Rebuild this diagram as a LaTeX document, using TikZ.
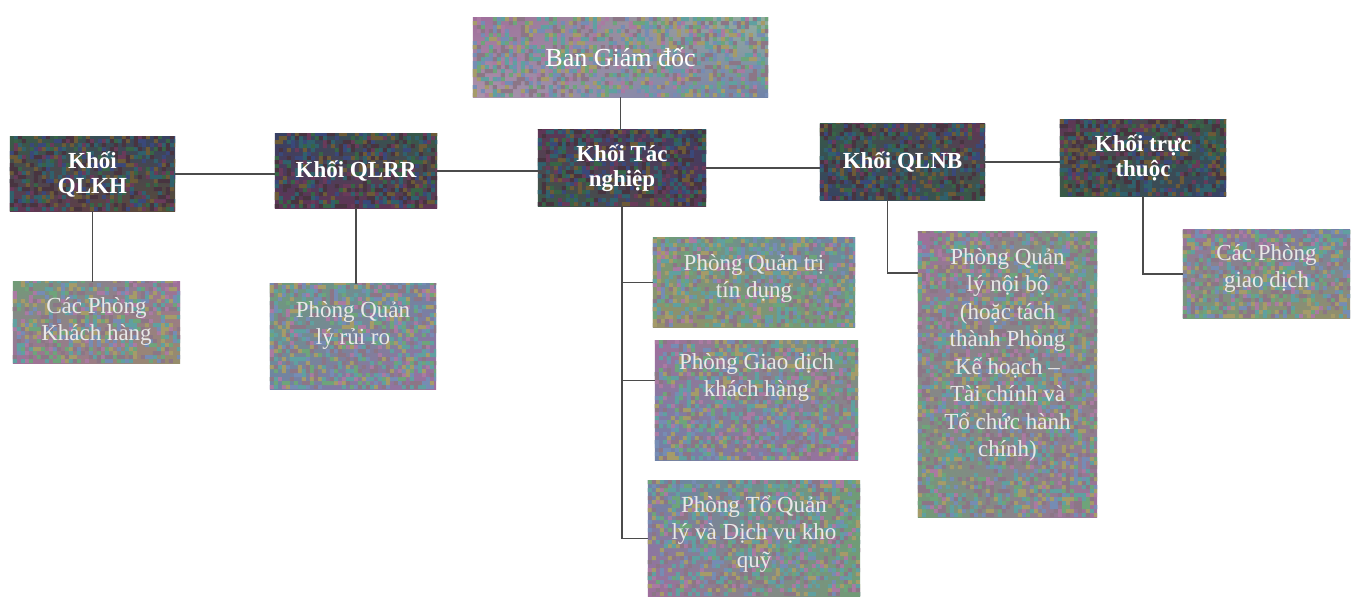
\documentclass[tikz,border=0pt]{standalone}
\usepackage{fontspec}
\setmainfont{Liberation Serif}
\usetikzlibrary{shadings}
\pgfdeclarelayer{bg}
\pgfsetlayers{bg,main}
% noise palettes
\definecolor{dk1}{RGB}{105,58,90}
\definecolor{dk2}{RGB}{55,100,70}
\definecolor{dk3}{RGB}{58,72,122}
\definecolor{dk4}{RGB}{108,90,55}
\definecolor{dk5}{RGB}{48,96,108}
\definecolor{dk6}{RGB}{72,52,64}
\definecolor{lt1}{RGB}{170,122,162}
\definecolor{lt2}{RGB}{110,164,122}
\definecolor{lt3}{RGB}{118,140,180}
\definecolor{lt4}{RGB}{165,155,105}
\definecolor{lt5}{RGB}{96,160,160}
\definecolor{lt6}{RGB}{140,118,134}
% shading base colours
\definecolor{dA}{RGB}{55,92,70}
\definecolor{dB}{RGB}{96,52,86}
\definecolor{dC}{RGB}{55,64,100}
\definecolor{dD}{RGB}{90,78,52}
\definecolor{lA}{RGB}{112,156,118}
\definecolor{lB}{RGB}{160,110,156}
\definecolor{lC}{RGB}{110,130,168}
\definecolor{lD}{RGB}{150,142,104}
\definecolor{lE}{RGB}{172,148,170}
\definecolor{lF}{RGB}{146,176,160}
\definecolor{lineC}{RGB}{75,75,75}
\definecolor{lowtxt}{RGB}{232,232,232}
\newcount\tbn \newcount\tbi \newcount\tbj \newcount\tbtot
\newcommand\lowtext[4]{\parbox[c][#2pt][t]{#1pt}{\centering\rule{0pt}{#3pt}#4}}
\newcommand\texturebox[3]{%
  \begin{pgfonlayer}{bg}
  \path (#1.south west); \pgfgetlastxy{\tbxa}{\tbya}
  \path (#1.north east); \pgfgetlastxy{\tbxb}{\tbyb}
  \begin{scope}
    \clip (#1.south west) rectangle (#1.north east);
    \shade[#3] (#1.south west) rectangle (#1.north east);
    \pgfmathtruncatemacro\tbnx{(\tbxb-\tbxa)/4+1}
    \pgfmathtruncatemacro\tbny{(\tbyb-\tbya)/4+1}
    \tbtot=\numexpr\tbnx*\tbny\relax
    \foreach \k in {1,...,6}{%
      \tbn=0
      \loop
        \tbj=\tbn \divide\tbj by \tbnx
        \tbi=\numexpr\tbn-\tbj*\tbnx\relax
        \pgfmathrandominteger{\tbr}{1}{7}%
        \ifnum\tbr=1
          \pgfpathrectangle{\pgfqpoint{\dimexpr\tbxa+4pt*\tbi\relax}{\dimexpr\tbya+4pt*\tbj\relax}}{\pgfqpoint{4pt}{4pt}}%
        \fi
        \advance\tbn by 1
      \ifnum\tbn<\tbtot\repeat
      \pgfsetfillcolor{#2\k}%
      \pgfusepath{fill}%
    }
  \end{scope}
  \end{pgfonlayer}}
\begin{document}
\begin{tikzpicture}[x=1pt,y=-1pt,
  topbox/.style={inner sep=0pt, align=center, text=white, font=\fontsize{23}{25}\selectfont\bfseries},
  lowbox/.style={inner sep=0pt, text=lowtxt, font=\fontsize{23}{27.5}\selectfont},
  conn/.style={draw=lineC, line width=1.6pt}]
\pgfmathsetseed{7}
\begin{pgfonlayer}{bg}
  \fill[white] (0,0) rectangle (1363,603);
\end{pgfonlayer}
\useasboundingbox (0,0) rectangle (1363,603);
% top row
\node[topbox, font=\fontsize{26}{28}\selectfont, minimum width=295pt, minimum height=79pt] (bgd) at (620.5,57.5) {Ban Giám đốc};
\node[topbox, minimum width=165pt, minimum height=74pt] (qlkh) at (92.5,174) {Khối\\QLKH};
\node[topbox, minimum width=162pt, minimum height=74pt] (qlrr) at (356,171) {Khối QLRR};
\node[topbox, minimum width=168pt, minimum height=76pt] (tn) at (622,168) {Khối Tác\\nghiệp};
\node[topbox, minimum width=165pt, minimum height=76pt] (qlnb) at (902.5,162) {Khối QLNB};
\node[topbox, minimum width=166pt, minimum height=76pt] (tt) at (1143,158) {Khối trực\\thuộc};
% lower boxes
\node[lowbox] (cpkh) at (96.5,322.5) {\lowtext{167}{81}{31}{Các Phòng\\Khách hàng}};
\node[lowbox] (pqlrr) at (353,336.5) {\lowtext{166}{105}{33}{Phòng Quản\\lý rủi ro}};
\node[lowbox] (pqttd) at (754,282.5) {\lowtext{202}{89}{32}{Phòng Quản trị\\tín dụng}};
\node[lowbox] (pgdkh) at (756.5,400.5) {\lowtext{203}{119}{28}{Phòng Giao dịch\\khách hàng}};
\node[lowbox] (ptql) at (754,538.5) {\lowtext{212}{115}{31}{Phòng Tổ Quản\\lý và Dịch vụ kho\\quỹ}};
\node[lowbox] (pqlnb) at (1007.5,374.5) {\lowtext{179}{285}{32}{Phòng Quản\\lý nội bộ\\(hoặc tách\\thành Phòng\\Kế hoạch –\\Tài chính và\\Tổ chức hành\\chính)}};
\node[lowbox] (cpgd) at (1266.5,274) {\lowtext{167}{88}{30}{Các Phòng\\giao dịch}};
% textures
\texturebox{bgd}{lt}{upper left=lB, upper right=lF, lower left=lE, lower right=lC}
\texturebox{qlkh}{dk}{upper left=dA, upper right=dC, lower left=dB, lower right=dD}
\texturebox{qlrr}{dk}{upper left=dC, upper right=dA, lower left=dB, lower right=dB}
\texturebox{tn}{dk}{upper left=dB, upper right=dC, lower left=dA, lower right=dB}
\texturebox{qlnb}{dk}{upper left=dA, upper right=dB, lower left=dC, lower right=dA}
\texturebox{tt}{dk}{upper left=dB, upper right=dA, lower left=dA, lower right=dC}
\texturebox{cpkh}{lt}{upper left=lA, upper right=lB, lower left=lB, lower right=lD}
\texturebox{pqlrr}{lt}{upper left=lA, upper right=lC, lower left=lC, lower right=lB}
\texturebox{pqttd}{lt}{upper left=lA, upper right=lC, lower left=lD, lower right=lA}
\texturebox{pgdkh}{lt}{upper left=lB, upper right=lA, lower left=lC, lower right=lB}
\texturebox{ptql}{lt}{upper left=lC, upper right=lA, lower left=lB, lower right=lA}
\texturebox{pqlnb}{lt}{upper left=lB, upper right=lA, lower left=lA, lower right=lB}
\texturebox{cpgd}{lt}{upper left=lB, upper right=lC, lower left=lA, lower right=lD}
% connectors
\draw[conn] (bgd.south) -- (bgd.south |- tn.north);
\draw[conn] (qlkh.east) -- (qlkh.east -| qlrr.west);
\draw[conn] (qlrr.east) -- (qlrr.east -| tn.west);
\draw[conn] (tn.east) -- (tn.east -| qlnb.west);
\draw[conn] (qlnb.east) -- (qlnb.east -| tt.west);
\draw[conn] (qlkh.south) -- (qlkh.south |- cpkh.north);
\draw[conn] (qlrr.south) -- (qlrr.south |- pqlrr.north);
\draw[conn] (tn.south) |- (pqttd.west);
\draw[conn] (tn.south) |- ([yshift=20pt]pgdkh.west);
\draw[conn] (tn.south) |- (ptql.west);
\draw[conn] ([xshift=-15pt]qlnb.south) |- ([yshift=-41pt]pqlnb.north west);
\draw[conn] (tt.south) |- (cpgd.west);
\end{tikzpicture}
\end{document}
